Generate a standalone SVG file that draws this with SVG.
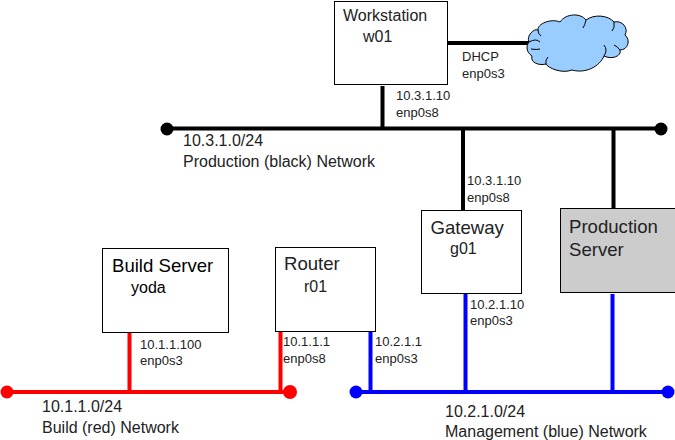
<svg xmlns="http://www.w3.org/2000/svg" width="675" height="440" viewBox="0 0 675 440">
<style>
text{font-family:"Liberation Sans",Arial,sans-serif;fill:#222}
.t{font-size:18.600px}.m{font-size:16px}.s{font-size:13px}
.box{fill:#fff;stroke:#000;stroke-width:1}
.k{stroke:#000;stroke-width:4;fill:none}.r{stroke:#f00;stroke-width:4;fill:none}.b{stroke:#00f;stroke-width:4;fill:none}
</style>
<rect width="675" height="440" fill="#fff"/>
<g id="connectors">
<path class="k" d="M167 128.500H661M382.500 86V129M463 127V210M613.500 130V210M447 43H530"/>
<circle cx="167" cy="129" r="6.500"/><circle cx="661" cy="129" r="6.500"/>
<path class="r" d="M7 392H290M129.500 332V392M280.500 331V392"/>
<circle cx="7" cy="392" r="6.500" fill="#f00"/><circle cx="290" cy="392" r="7" fill="#f00"/>
<path class="b" d="M356 392H668M370.500 331V392M465.500 294V392M612.500 294V390"/>
<circle cx="356" cy="392" r="6.500" fill="#00f"/><circle cx="668" cy="392" r="6.500" fill="#00f"/>
</g>
<g id="w01"><rect class="box" x="334.500" y="1.500" width="113" height="83"/>
<text class="m" x="343" y="21">Workstation</text><text class="m" x="363" y="42">w01</text>
<text class="s" x="396" y="100">10.3.1.10</text><text class="s" x="396" y="117">enp0s8</text></g>
<g id="cloud"><path d="M529 42C526 36 534 28 538 30C537 24 551 18 560 22C566 13 581 13 586 20C594 14 608 15 614 22C622 20 629 28 625 35C631 40 628 50 620 50C622 56 612 60 604 56C600 66 586 74 572 70C562 74 548 68 546 64C538 66 530 62 532 56C526 52 526 46 529 42Z" fill="#99ccff" stroke="#000" stroke-width="1"/>
<path d="M529 42Q536 38 540 42M531 49Q537 50 540 49M538 30Q538 34 541 36M586 20Q585 25 583 28M614 22Q615 28 612 31M620 50Q617 46 614 45M604 56Q608 50 604 45M546 64Q545 60 548 57" fill="none" stroke="#000" stroke-width="1"/></g>
<text class="s" x="462" y="61">DHCP</text><text class="s" x="462" y="78">enp0s3</text>
<g id="production-net"><text class="m" x="183" y="146">10.3.1.0/24</text><text class="m" x="183" y="167">Production (black) Network</text></g>
<g id="g01"><rect class="box" x="421.500" y="210.500" width="100" height="83"/>
<text class="t" x="430.500" y="234">Gateway</text><text class="m" x="450" y="254">g01</text>
<text class="s" x="467" y="185">10.3.1.10</text><text class="s" x="467" y="202">enp0s8</text>
<text class="s" x="470" y="309">10.2.1.10</text><text class="s" x="470" y="325">enp0s3</text></g>
<g id="production-server"><rect x="560.500" y="208.500" width="115" height="84" fill="#cccccc" stroke="#000"/>
<text class="t" x="569" y="233">Production</text><text class="t" x="569" y="256">Server</text></g>
<g id="yoda"><rect class="box" x="102.500" y="248.500" width="126" height="84"/>
<text class="t" x="112" y="272" style="fill:#000">Build Server</text><text class="m" x="131" y="293" style="fill:#000">yoda</text>
<text class="s" x="140" y="349">10.1.1.100</text><text class="s" x="140" y="365">enp0s3</text></g>
<g id="r01"><rect class="box" x="275.500" y="247.500" width="100" height="84"/>
<text class="t" x="284" y="270">Router</text><text class="m" x="304" y="292">r01</text>
<text class="s" x="283" y="346">10.1.1.1</text><text class="s" x="283" y="363">enp0s8</text>
<text class="s" x="375" y="346">10.2.1.1</text><text class="s" x="375" y="363">enp0s3</text></g>
<g id="build-net"><text class="m" x="42" y="412">10.1.1.0/24</text><text class="m" x="42" y="433">Build (red) Network</text></g>
<g id="mgmt-net"><text class="m" x="445" y="417">10.2.1.0/24</text><text class="m" x="445" y="437">Management (blue) Network</text></g>
</svg>
